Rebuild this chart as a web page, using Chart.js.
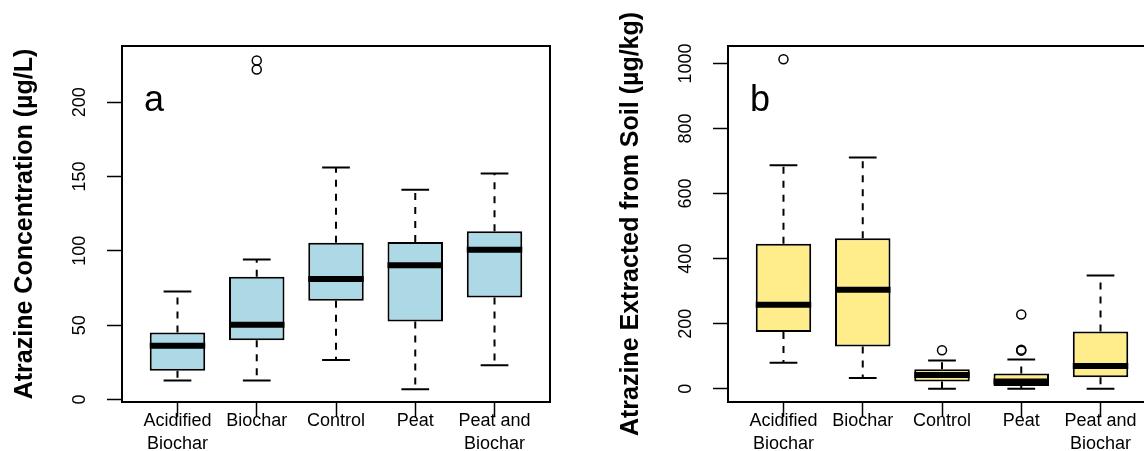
<!DOCTYPE html>
<html>
<head>
<meta charset="utf-8">
<script src="https://cdn.jsdelivr.net/npm/chart.js@4.4.1/dist/chart.umd.min.js"></script>
<style>
  html, body { margin: 0; padding: 0; background: #fff; }
  body { width: 1144px; height: 451px; position: relative; overflow: hidden; }
  .panel { position: absolute; top: 0; width: 572px; height: 451px; }
  #panelA { left: 0; }
  #panelB { left: 606px; }
</style>
</head>
<body>
<div class="panel" id="panelA"><canvas id="chartA" width="572" height="451"></canvas></div>
<div class="panel" id="panelB"><canvas id="chartB" width="572" height="451"></canvas></div>
<script>
const categories = [["Acidified", "Biochar"], "Biochar", "Control", "Peat", ["Peat and", "Biochar"]];

// panel a: atrazine concentration (µg/L)
const waterLow = [12.8, 12.8, 26.5, 6.9, 23.1];
const waterQ1 = [19.3, 39.9, 66.4, 52.4, 68.6];
const waterMedian = [36.1, 50.2, 81.0, 90.3, 100.7];
const waterQ3 = [45.1, 82.5, 105.4, 105.9, 113.1];
const waterHigh = [72.7, 94.2, 156.1, 141.1, 152.1];
const waterOutGroup = [2, 2];
const waterOutValue = [222, 228];
const waterTicks = [0, 50, 100, 150, 200];

// panel b: atrazine extracted from soil (µg/kg)
const soilLow = [80, 33, 0, 0, 0];
const soilQ1 = [174, 130, 22, 8, 35];
const soilMedian = [258, 304, 42, 22, 70];
const soilQ3 = [446, 463, 60, 47, 176];
const soilHigh = [687, 711, 87, 90, 348];
const soilOutGroup = [1, 3, 4, 4, 4];
const soilOutValue = [1013, 118, 117, 120, 228];
const soilTicks = [0, 200, 400, 600, 800, 1000];

Chart.defaults.font.family = "'Liberation Sans', Arial, sans-serif";
Chart.defaults.color = "#000";

const boxExtras = {
  id: "boxExtras",
  afterDatasetsDraw(chart, args, opts) {
    const { ctx, chartArea } = chart;
    const xs = chart.scales.x;
    const ys = chart.scales.y;
    const bars = chart.getDatasetMeta(0).data;
    ctx.save();
    ctx.strokeStyle = "#000";
    ctx.lineCap = "butt";
    for (let i = 0; i < opts.median.length; i++) {
      const x = xs.getPixelForValue(i + 1);
      const w = bars[i].width;
      const yQ1 = ys.getPixelForValue(opts.q1[i]);
      const yQ3 = ys.getPixelForValue(opts.q3[i]);
      const yLo = ys.getPixelForValue(opts.low[i]);
      const yHi = ys.getPixelForValue(opts.high[i]);
      ctx.lineWidth = 2;
      ctx.setLineDash([7, 7]);
      ctx.beginPath();
      ctx.moveTo(x, yQ3);
      ctx.lineTo(x, yHi);
      ctx.moveTo(x, yQ1);
      ctx.lineTo(x, yLo);
      ctx.stroke();
      ctx.setLineDash([]);
      ctx.beginPath();
      ctx.moveTo(x - w / 4, yHi);
      ctx.lineTo(x + w / 4, yHi);
      ctx.moveTo(x - w / 4, yLo);
      ctx.lineTo(x + w / 4, yLo);
      ctx.stroke();
      const yMed = ys.getPixelForValue(opts.median[i]);
      ctx.lineWidth = 6;
      ctx.beginPath();
      ctx.moveTo(x - w / 2, yMed);
      ctx.lineTo(x + w / 2, yMed);
      ctx.stroke();
    }
    ctx.lineWidth = 2;
    ctx.strokeRect(chartArea.left, chartArea.top, chartArea.right - chartArea.left, chartArea.bottom - chartArea.top);

    ctx.fillStyle = "#000";
    ctx.font = "36px 'Liberation Sans', Arial, sans-serif";
    ctx.textAlign = "left";
    ctx.textBaseline = "alphabetic";
    ctx.fillText(opts.letter, chartArea.left + 22, chartArea.top + 65);

    // y title, drawn here so it is not squeezed to the plot height
    ctx.translate(chartArea.left - 97, (chartArea.top + chartArea.bottom) / 2);
    ctx.rotate(-Math.PI / 2);
    ctx.font = "bold 25px 'Liberation Sans', Arial, sans-serif";
    ctx.textAlign = "center";
    ctx.textBaseline = "middle";
    ctx.fillText(opts.yTitle, 0, 0);
    ctx.restore();
  },
};

function renderBoxChart(id, cfg) {
  new Chart(document.getElementById(id), {
    type: "bar",
    data: {
      datasets: [
        {
          type: "bar",
          data: cfg.q1.map((v, i) => ({ x: i + 1, y: [v, cfg.q3[i]] })),
          backgroundColor: cfg.fill,
          borderColor: "#000",
          borderWidth: 2,
          borderSkipped: false,
          barPercentage: 0.7,
          categoryPercentage: 1,
        },
        {
          type: "scatter",
          data: cfg.outGroup.map((g, i) => ({ x: g, y: cfg.outValue[i] })),
          pointStyle: "circle",
          pointRadius: 4.5,
          pointBorderWidth: 1.5,
          pointBorderColor: "#000",
          pointBackgroundColor: "rgba(0,0,0,0)",
        },
      ],
    },
    options: {
      responsive: false,
      animation: false,
      events: [],
      layout: { padding: { left: 0, top: 46, right: 22, bottom: 0 } },
      plugins: {
        legend: { display: false },
        tooltip: { enabled: false },
        boxExtras: {
          low: cfg.low, q1: cfg.q1, median: cfg.median, q3: cfg.q3, high: cfg.high,
          letter: cfg.letter, yTitle: cfg.yTitle,
        },
      },
      scales: {
        x: {
          type: "linear",
          min: 0.3,
          max: 5.7,
          offset: false,
          afterBuildTicks: (s) => { s.ticks = categories.map((c, i) => ({ value: i + 1 })); },
          afterFit: (s) => { s.height = 49; },
          border: { display: false },
          grid: { offset: false, drawOnChartArea: false, tickLength: 15, tickWidth: 1.5, tickColor: "#000" },
          ticks: {
            autoSkip: false,
            maxRotation: 0,
            padding: -8,
            color: "#000",
            font: { size: 18, lineHeight: 1.3 },
            callback: (v) => categories[v - 1],
          },
        },
        y: {
          min: cfg.yMin,
          max: cfg.yMax,
          afterBuildTicks: (s) => { s.ticks = cfg.ticks.map((v) => ({ value: v })); },
          afterFit: (s) => { s.width = 122; },
          border: { display: false },
          grid: { drawOnChartArea: false, tickLength: 15, tickWidth: 1.5, tickColor: "#000" },
          ticks: {
            autoSkip: false,
            minRotation: 90,
            maxRotation: 90,
            crossAlign: "center",
            padding: cfg.tickPad,
            color: "#000",
            font: { size: 18 },
            callback: (v) => String(v),
          },
        },
      },
    },
    plugins: [boxExtras],
  });
}

renderBoxChart("chartA", {
  low: waterLow, q1: waterQ1, median: waterMedian, q3: waterQ3, high: waterHigh,
  outGroup: waterOutGroup, outValue: waterOutValue, ticks: waterTicks,
  yMin: -1.7, yMax: 237.8, tickPad: 12, fill: "#ADD8E6", letter: "a",
  yTitle: "Atrazine Concentration (µg/L)",
});

renderBoxChart("chartB", {
  low: soilLow, q1: soilQ1, median: soilMedian, q3: soilQ3, high: soilHigh,
  outGroup: soilOutGroup, outValue: soilOutValue, ticks: soilTicks,
  yMin: -41, yMax: 1054, tickPad: 7, fill: "#FFEC8B", letter: "b",
  yTitle: "Atrazine Extracted from Soil (µg/kg)",
});
</script>
</body>
</html>
